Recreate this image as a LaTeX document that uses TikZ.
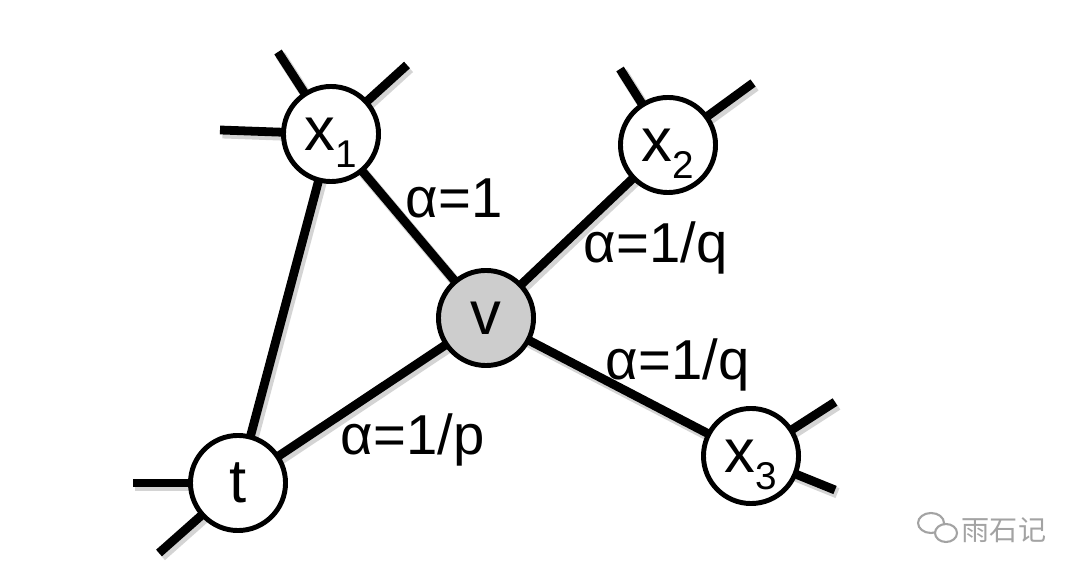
\documentclass[tikz,border=0pt]{standalone}
\usepackage{fontspec}
\setmainfont{Liberation Sans}
\newfontfamily\cjkfont{Noto Sans CJK SC}
\usepackage{tikz}
\usetikzlibrary{positioning, backgrounds}
\definecolor{vfill}{HTML}{CDCDCD}
\definecolor{shade}{HTML}{D4D4D4}
\definecolor{wmgray}{HTML}{A3A3A3}
\newcommand{\nsub}[1]{\raisebox{-5pt}{\fontsize{11}{11}\selectfont #1}}
\tikzset{
  vertex/.style={
    circle,
    draw=black,
    line width=1.4pt,
    fill=white,
    minimum size=0.95cm,
    inner sep=0pt,
    text depth=0pt,
    font=\fontsize{17.5}{17.5}\selectfont
  },
  link/.style={
    line width=2.5pt,
    preaction={draw=shade, line width=3pt, transform canvas={shift={(0.7pt,-0.9pt)}}}
  },
  weight/.style={anchor=base west, inner sep=0pt, font=\fontsize{16}{16}\selectfont}
}

\begin{document}
\begin{tikzpicture}[x=0.01cm, y=-0.01cm]
  \useasboundingbox (0,0) rectangle (1080,577);

  % ====== VERTICES ======
  \node[vertex, fill=vfill] (v) at (486,318) {v};
  \node[vertex] (x1) at (331,134) {x\nsub{1}};
  \node[vertex] (x2) at (668,145) {x\nsub{2}};
  \node[vertex] (x3) at (751,456) {x\nsub{3}};
  \node[vertex] (t) at (238,483) {t};

  % ====== LOOSE ENDS ======
  \coordinate (x1a) at (278,52);
  \coordinate (x1b) at (407,65);
  \coordinate (x1c) at (220,130);
  \coordinate (x2a) at (620,69);
  \coordinate (x2b) at (753,83);
  \coordinate (x3a) at (835,402);
  \coordinate (x3b) at (835,490);
  \coordinate (ta) at (133,483);
  \coordinate (tb) at (159,553);

  % ====== EDGES (behind the vertices) ======
  \begin{pgfonlayer}{background}
    \draw[link] (x1.center) -- (t.center);
    \draw[link] (x1.center) -- (v.center);
    \draw[link] (v.center) -- (x2.center);
    \draw[link] (v.center) -- (x3.center);
    \draw[link] (v.center) -- (t.center);

    \draw[link] (x1.center) -- (x1a);
    \draw[link] (x1.center) -- (x1b);
    \draw[link] (x1.center) -- (x1c);
    \draw[link] (x2.center) -- (x2a);
    \draw[link] (x2.center) -- (x2b);
    \draw[link] (x3.center) -- (x3a);
    \draw[link] (x3.center) -- (x3b);
    \draw[link] (t.center) -- (ta);
    \draw[link] (t.center) -- (tb);
  \end{pgfonlayer}

  % ====== WEIGHTS ======
  \node[weight] (w1) at (405,218) {α=1};
  \node[weight] (wq1) at (583,263) {α=1/q};
  \node[weight] (wq2) at (605,380) {α=1/q};
  \node[weight] (wp) at (340,455) {α=1/p};

  % ====== WATERMARK ======
  \draw[wmgray, line width=0.6pt] (931,523) ellipse [x radius=13, y radius=10];
  \draw[wmgray, line width=0.6pt, fill=white] (946,533) ellipse [x radius=11, y radius=9];
  \node[font=\cjkfont\fontsize{8}{8}\selectfont, text=wmgray] (logo) at (1004,530) {雨石记};

\end{tikzpicture}
\end{document}
